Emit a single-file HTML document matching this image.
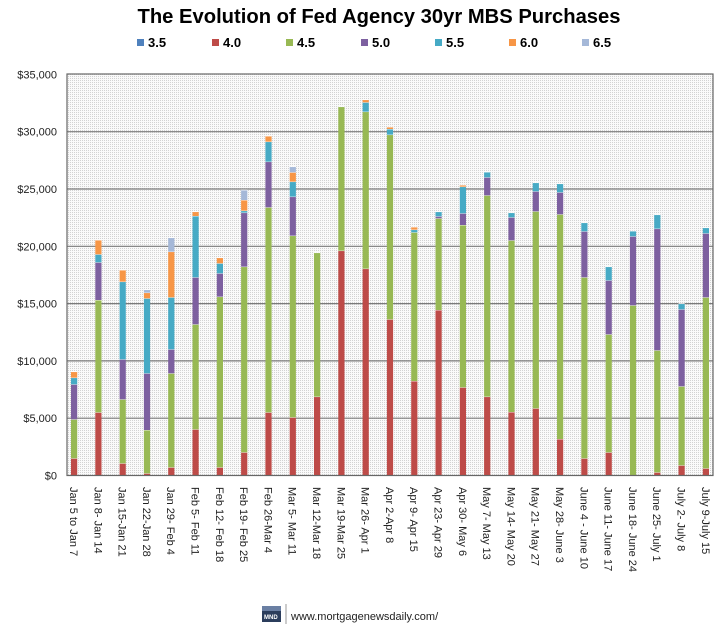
<!DOCTYPE html>
<html><head><meta charset="utf-8"><style>
html,body{margin:0;padding:0;background:#fff;width:720px;height:629px;overflow:hidden}
svg{display:block;font-family:"Liberation Sans",sans-serif}
</style></head><body>
<svg id="s" width="720" height="629" viewBox="0 0 720 629" xmlns="http://www.w3.org/2000/svg">
<defs>
<pattern id="dots" width="2" height="2" patternUnits="userSpaceOnUse">
<rect width="2" height="2" fill="#fafafa"/><rect width="1" height="1" fill="#d2d2d2"/>
</pattern>
</defs>
<text x="379" y="23" font-size="20" font-weight="bold" text-anchor="middle" textLength="483" lengthAdjust="spacingAndGlyphs">The Evolution of Fed Agency 30yr MBS Purchases</text>
<g font-size="13" font-weight="bold">
<rect x="137" y="39" width="7" height="7" fill="#4f81bd"/><text x="148" y="47">3.5</text>
<rect x="212" y="39" width="7" height="7" fill="#be4b48"/><text x="223" y="47">4.0</text>
<rect x="286" y="39" width="7" height="7" fill="#98b954"/><text x="297" y="47">4.5</text>
<rect x="361" y="39" width="7" height="7" fill="#7d60a0"/><text x="372" y="47">5.0</text>
<rect x="435" y="39" width="7" height="7" fill="#46aac5"/><text x="446" y="47">5.5</text>
<rect x="509" y="39" width="7" height="7" fill="#f79646"/><text x="520" y="47">6.0</text>
<rect x="582" y="39" width="7" height="7" fill="#a5b8d8"/><text x="593" y="47">6.5</text>
</g>
<rect x="67" y="74" width="646" height="401.5" fill="url(#dots)"/>
<g id="grid" stroke="#7a7a7a" stroke-width="1.2"></g>
<g id="bars"></g>
<rect x="67" y="74" width="646" height="401.5" fill="none" stroke="#666" stroke-width="1.2"/>
<g id="ylab" font-size="11" text-anchor="end" fill="#222"></g>
<g id="xlab" font-size="11" fill="#222"></g>
<rect x="262" y="606" width="19" height="16" fill="#2b3d5c"/>
<rect x="262" y="606" width="19" height="5" fill="#6a7fa3"/>
<text x="264" y="619" font-size="6" font-weight="bold" fill="#fff">MND</text>
<line x1="286" y1="604" x2="286" y2="624" stroke="#999"/>
<text x="291" y="620" font-size="11" fill="#222">www.mortgagenewsdaily.com/</text>
</svg>
<script>
var ns="http://www.w3.org/2000/svg";
function el(p,t,a,txt){var e=document.createElementNS(ns,t);for(var k in a)e.setAttribute(k,a[k]);if(txt!=null)e.textContent=txt;document.getElementById(p).appendChild(e);return e;}
var base=475.5, step=57.3;
for(var i=0;i<=7;i++){var y=base-i*step;
 if(i>0&&i<7)el("grid","line",{x1:67,x2:713,y1:y,y2:y});
 var v=i*5000;var s="$"+(v==0?"0":(v/1000)+",000");
 el("ylab","text",{x:57,y:y+4},s);}
var cols=["#be4b48","#98b954","#7d60a0","#46aac5","#f79646","#a5b8d8"];
var d=[[1195,1078,973,953,935],[1057,720,607,583,540],[1210,1018,898,665,630],[1240,1110,940,715,698,689],
[1222,940,868,712,575,533],[1108,793,652,468,455],[1222,710,640,610,593],[1177,620,458,452,420,390],
[1057,442,305,245,228],[1072,527,410,365,337,320],[1010,578],[572,140],[626,155,null,127,119],
[778,224,null,207,201],[963,517,null,509,501],[750,475,469,455],[982,495,460,380,375],[1010,406,352,336],
[1056,541,472,458],[1045,454,394,368],[1137,463,397,371],[1195,652,514,488],[1177,823,661,620],
[1245,736,529,513],[1237,871,506,464],[1216,979,748,731],[1225,712,520,503]];
var labels=["Jan 5 to Jan 7","Jan 8- Jan 14","Jan 15-Jan 21","Jan 22-Jan 28","Jan 29- Feb 4","Feb 5- Feb 11","Feb 12- Feb 18","Feb 19- Feb 25","Feb 26-Mar 4","Mar 5- Mar 11","Mar 12-Mar 18","Mar 19-Mar 25","Mar 26- Apr 1","Apr 2-Apr 8","Apr 9- Apr 15","Apr 23- Apr 29","Apr 30- May 6","May 7- May 13","May 14- May 20","May 21- May 27","May 28- June 3","June 4 - June 10","June 11- June 17","June 18- June 24","June 25- July 1","July 2- July 8","July 9-July 15"];
for(var b=0;b<27;b++){
 var x=71+b*24.3, prev=base, arr=d[b];
 var top=base;for(var k=0;k<arr.length;k++)if(arr[k]!=null)top=60+arr[k]/3;
 el("bars","rect",{x:x+6,y:top+1,width:2.5,height:base-top-1,fill:"#c4c4c4"});
 for(var k=0;k<arr.length;k++){if(arr[k]==null)continue;var y=60+arr[k]/3;
  if(prev-y>0.3){el("bars","rect",{x:x,y:y,width:6.2,height:prev-y,fill:cols[k]});
   el("bars","line",{x1:x,x2:x+6.2,y1:y,y2:y,stroke:"#fff","stroke-width":0.8});}
  prev=y;}
 var cx=x+3;
 el("xlab","text",{x:0,y:0,transform:"translate("+(cx-4)+",487) rotate(90)"},labels[b]);
}
</script>
</body></html>
